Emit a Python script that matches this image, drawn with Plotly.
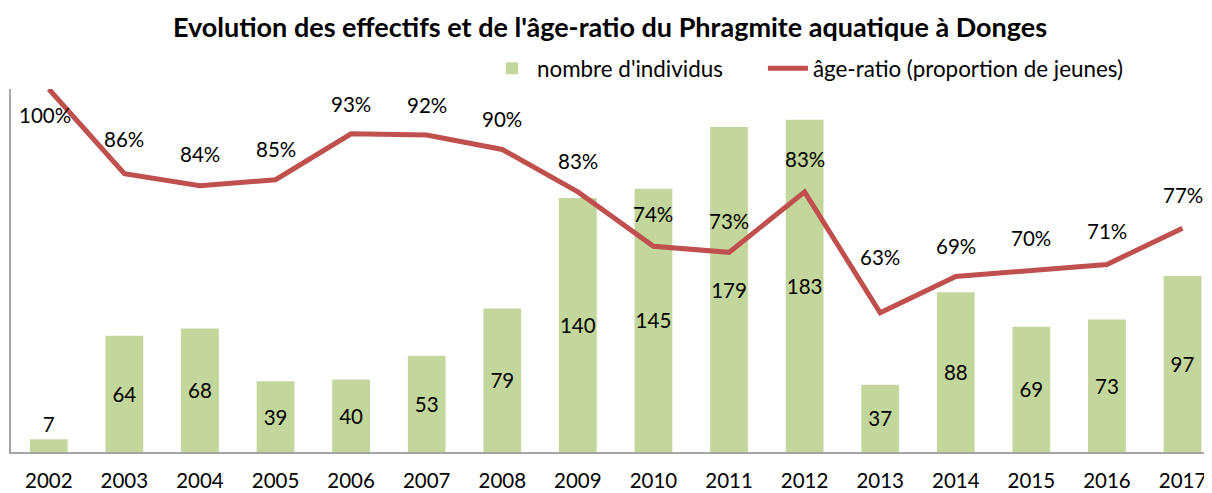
import plotly.graph_objects as go

years = ["2002", "2003", "2004", "2005", "2006", "2007", "2008", "2009",
         "2010", "2011", "2012", "2013", "2014", "2015", "2016", "2017"]
individus = [7, 64, 68, 39, 40, 53, 79, 140, 145, 179, 183, 37, 88, 69, 73, 97]
age_ratio = [1.00, 0.86, 0.84, 0.85, 0.926, 0.924, 0.90, 0.83,
             0.74, 0.73, 0.83, 0.63, 0.69, 0.70, 0.71, 0.77]

# label placement (pixel offsets of the percentage labels from their points)
label_dy = [-26, 35, 32, 31, 30, 30, 31, 31, 32, 31, 33, 56, 31, 33, 33, 33]
label_dx = [-4, 0, 0, 0, 0, 0, 0, 0, 0, 0, 0, 0, 0, 0, 0, 0]

FONT = "Lato"
BAR_COLOR = "#c3d69b"
LINE_COLOR = "#c0504d"
LABEL_SIZE = 20.5

fig = go.Figure()

fig.add_trace(go.Bar(
    x=years, y=individus, name="nombre d'individus",
    marker=dict(color=BAR_COLOR, line=dict(width=0)),
    text=[str(v) for v in individus],
    textposition=["outside"] + ["inside"] * (len(years) - 1),
    insidetextanchor="middle",
    textangle=0,
    constraintext="none",
    cliponaxis=False,
    textfont=dict(family=FONT, size=LABEL_SIZE, color="black"),
    yaxis="y",
    legend="legend",
))

fig.add_trace(go.Scatter(
    x=years, y=age_ratio, name="âge-ratio (proportion de jeunes)",
    mode="lines",
    line=dict(color=LINE_COLOR, width=5),
    yaxis="y2",
    legend="legend2",
))

# category axis: annotation x given as category index
for i, (v, dy, dx) in enumerate(zip(age_ratio, label_dy, label_dx)):
    fig.add_annotation(
        x=i, y=v, xref="x", yref="y2", text=f"{round(v * 100):d}%",
        showarrow=False, yshift=dy, xshift=dx,
        font=dict(family=FONT, size=LABEL_SIZE, color="black"),
    )

legend_common = dict(
    orientation="h", xanchor="left", y=1.115, yanchor="top",
    font=dict(family=FONT, size=22.4, color="black"),
    bgcolor="rgba(0,0,0,0)", itemwidth=40,
)

fig.update_layout(
    width=1204, height=485,
    margin=dict(l=3, r=0, t=81, b=41),
    paper_bgcolor="white", plot_bgcolor="white",
    title=dict(
        text="<b>Evolution des effectifs et de l'âge-ratio du Phragmite aquatique à Donges</b>",
        x=0.5, xanchor="center", y=0.959, yanchor="middle",
        font=dict(family=FONT, size=27, color="black"),
    ),
    font=dict(family=FONT, size=LABEL_SIZE, color="black"),
    bargap=0.5,
    showlegend=True,
    legend=dict(x=0.3963, **legend_common),
    legend2=dict(x=0.6261, **legend_common),
    xaxis=dict(
        type="category", range=[-0.5, 15.39],
        showline=True, linecolor="#a6a6a6", linewidth=2,
        ticks="", showgrid=False, zeroline=False,
        ticklabelstandoff=9,
        tickfont=dict(family=FONT, size=LABEL_SIZE, color="black"),
    ),
    yaxis=dict(
        range=[0, 200], showticklabels=False, showgrid=False, zeroline=False,
        showline=True, linecolor="#a6a6a6", linewidth=2, ticks="",
    ),
    yaxis2=dict(
        range=[0.4, 1.0], overlaying="y", side="right",
        showticklabels=False, showgrid=False, zeroline=False, showline=False,
    ),
)

fig.write_html("out.html")
